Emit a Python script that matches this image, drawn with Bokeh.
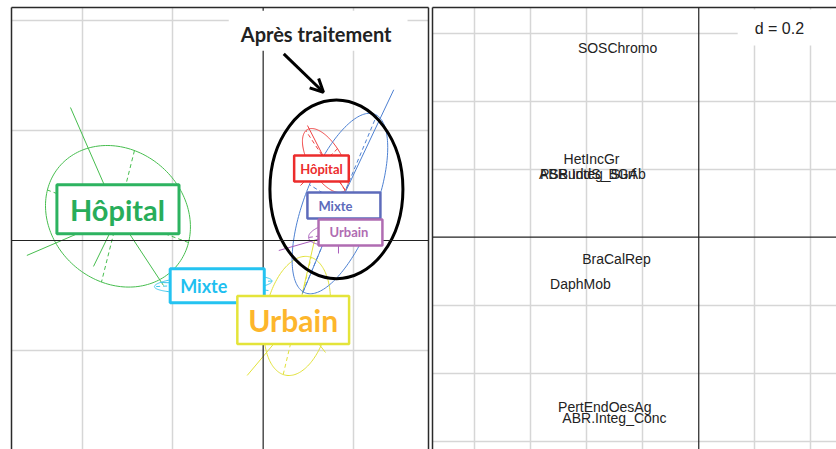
import numpy as np
from bokeh.plotting import figure
from bokeh.layouts import row
from bokeh.models import Range1d, Span, Label, Arrow, OpenHead, Grid, FixedTicker, LinearAxis
from bokeh.core.properties import value
from bokeh.embed import file_html
from bokeh.resources import INLINE

# ---------------- left panel : group ellipses (grid step = 1) ----------------
group_names  = ["Hôpital", "Mixte", "Urbain", "Hôpital", "Mixte", "Urbain"]
group_phase  = ["avant", "avant", "avant", "après", "après", "après"]
group_mean_x = [-1.608, -0.553, 0.377, 0.690, 0.850, 0.834]
group_mean_y = [0.220, -0.394, -0.686, 0.727, 0.336, 0.064]
group_sd_x   = [0.535, 0.434, 0.246, 0.170, 0.353, 0.221]
group_sd_y   = [0.429, 0.056, 0.361, 0.194, 0.547, 0.073]
group_corr   = [-0.15, 0.30, 0.25, -0.60, 0.62, 0.30]
star_x = [[-2.134, -2.617, -1.104, -1.879],
          [-1.137, 0.059],
          [-0.177, 0.690, 0.568],
          [0.491, 0.911, 0.413],
          [1.446, 0.435],
          [0.173, 0.834]]
star_y = [[1.209, -0.136, -0.409, -0.236],
          [-0.382, -0.455],
          [-1.227, -1.018, 0.000],
          [1.045, 0.455, 0.500],
          [1.370, -0.482],
          [-0.091, -0.118]]
left_grid_x = [-2, -1, 1]
left_grid_y = [-1, 1, 2]

# annotation (highlight of the treated groups)
note_text = "Après traitement"

# ---------------- right panel : variables (d = 0.2) ----------------
var_names = ["SOSChromo", "HetIncGr", "ABR.Integ_Surf", "PSBuddS_BGAb",
             "BraCalRep", "DaphMob", "PertEndOesAg", "ABR.Integ_Conc"]
var_x = [-0.290, -0.383, -0.397, -0.378, -0.294, -0.4225, -0.3357, -0.301]
var_y = [0.556, 0.231, 0.187, 0.187, -0.065, -0.139, -0.498, -0.533]
right_grid = [-0.8, -0.6, -0.4, -0.2, 0.2, 0.4, 0.6]
d_label = "d = 0.2"

# ---------------- styles ----------------
ell_colors  = ["#46bd4e", "#3fc6ea", "#e2e23a", "#f04343", "#4d80d2", "#a85bbb"]
lab_text    = ["#28ad5a", "#1fbff0", "#fdb62c", "#ec2c2c", "#5d6bbb", "#b06cb2"]
lab_border  = ["#2db360", "#25c3f1", "#e4e43a", "#ec2c2c", "#5d6bbb", "#b06cb2"]
lab_size    = [29, 18, 30, 13, 13, 13]
lab_off     = [(0, 7), (4, -2), (-4, -4), (-4, -8), (4, -2), (12, 1)]
lab_pad     = [dict(left=13, right=14, top=7, bottom=7),
               dict(left=10, right=37, top=6, bottom=6),
               dict(left=11, right=11, top=6, bottom=6),
               dict(left=6, right=6, top=5, bottom=5),
               dict(left=11, right=28, top=5, bottom=5),
               dict(left=11, right=14, top=5, bottom=5)]
lab_bw      = [3, 3, 2.5, 2.5, 2.5, 2.5]

W1, W2, H = 430, 406, 449


def frame_axes(p, sides):
    for side in sides:
        ax = LinearAxis(ticker=FixedTicker(ticks=[]), axis_line_color="#2a2a2a", axis_line_width=1.5,
                        major_tick_line_color=None, minor_tick_line_color=None,
                        major_tick_out=0, major_tick_in=0, minor_tick_out=0, minor_tick_in=0,
                        major_label_text_font_size="0px", major_label_standoff=0)
        p.add_layout(ax, side)


def grids(p, xs, ys):
    p.add_layout(Grid(dimension=0, ticker=FixedTicker(ticks=xs), grid_line_color="#d6d6d6", grid_line_width=1.5))
    p.add_layout(Grid(dimension=1, ticker=FixedTicker(ticks=ys), grid_line_color="#d6d6d6", grid_line_width=1.5))
    p.add_layout(Span(location=0, dimension="height", line_color="#222222", line_width=1.2))
    p.add_layout(Span(location=0, dimension="width", line_color="#222222", line_width=1.2))


# ---------- left figure ----------
p1 = figure(width=W1, height=H, x_range=Range1d(-2.787, 1.831), y_range=Range1d(-1.9, 2.118),
            x_axis_type=None, y_axis_type=None, toolbar_location=None, output_backend="svg",
            min_border_left=11, min_border_right=2, min_border_top=7, min_border_bottom=0,
            outline_line_color=None, background_fill_color="white", border_fill_color="white")
frame_axes(p1, ["left", "above", "right"])
grids(p1, left_grid_x, left_grid_y)

t = np.linspace(0, 2 * np.pi, 181)
for i in range(len(group_names)):
    mx, my = group_mean_x[i], group_mean_y[i]
    sx, sy, r = group_sd_x[i], group_sd_y[i], group_corr[i]
    cov = np.array([[sx * sx, r * sx * sy], [r * sx * sy, sy * sy]])
    L = np.linalg.cholesky(cov)
    pts = 1.5 * L @ np.vstack([np.cos(t), np.sin(t)])
    col = ell_colors[i]
    p1.line(mx + pts[0], my + pts[1], line_color=col, line_width=1)
    vals, vecs = np.linalg.eigh(cov)
    for k in range(2):
        dv = 1.5 * np.sqrt(vals[k]) * vecs[:, k]
        p1.line([mx - dv[0], mx + dv[0]], [my - dv[1], my + dv[1]], line_color=col,
                line_width=1, line_dash="4 3")
    n = len(star_x[i])
    p1.segment(x0=[mx] * n, y0=[my] * n, x1=star_x[i], y1=star_y[i], line_color=col, line_width=1)

# highlight ellipse around treated groups
hx = np.mean(group_mean_x[3:])
hy = np.mean(group_mean_y[3:])
p1.ellipse(x=[hx + 0.02], y=[hy + 0.09], width=[1.473], height=[1.625], fill_color=None,
           line_color="black", line_width=3)

for i in range(len(group_names)):
    p1.add_layout(Label(x=group_mean_x[i], y=group_mean_y[i], text=group_names[i],
                        x_offset=lab_off[i][0], y_offset=lab_off[i][1],
                        text_align="center", text_baseline="middle",
                        text_font="Lato", text_font_style="bold", text_font_size=f"{lab_size[i]}px",
                        text_color=lab_text[i], background_fill_color="white",
                        border_line_color=lab_border[i], border_line_width=lab_bw[i],
                        padding=lab_pad[i]))

p1.add_layout(Arrow(end=OpenHead(size=13, line_width=3, line_color="black"),
                    x_start=0.228, y_start=1.697, x_end=0.668, y_end=1.348,
                    line_width=3, line_color="black"))
p1.add_layout(Label(x=0.609, y=1.906, text=note_text, text_align="center", text_baseline="middle",
                    text_font="Lato", text_font_style="bold", text_font_size="20px",
                    text_color="#222222", background_fill_color="white",
                    padding=dict(left=12, right=16, top=11, bottom=5)))

# ---------- right figure ----------
p2 = figure(width=W2, height=H, x_range=Range1d(-0.951, 0.492), y_range=Range1d(-0.6244, 0.6756),
            x_axis_type=None, y_axis_type=None, toolbar_location=None, output_backend="svg",
            min_border_left=2, min_border_right=0, min_border_top=7, min_border_bottom=0,
            outline_line_color=None, background_fill_color="white", border_fill_color="white")
frame_axes(p2, ["left", "above"])
grids(p2, right_grid, right_grid)

p2.text(x=var_x, y=var_y, text=var_names, text_font=value("Liberation Sans"), text_font_size="14px",
        text_align="center", text_baseline="middle", text_color="#222222")
p2.add_layout(Label(x=0.329, y=0.617, text=d_label, text_align="center", text_baseline="middle",
                    text_font="Liberation Sans", text_font_size="16px", text_color="#222222",
                    background_fill_color="white",
                    padding=dict(left=17, right=40, top=11, bottom=8)))

layout = row(p1, p2)
open("out.html", "w").write(file_html(layout, INLINE))
